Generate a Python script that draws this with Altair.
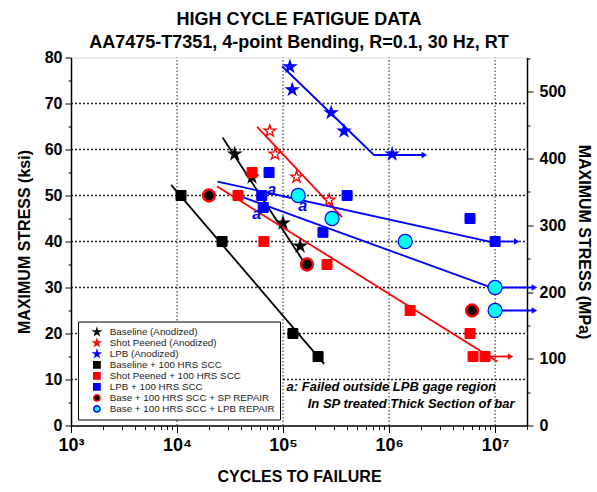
import altair as alt
import pandas as pd

FONT = "Liberation Sans"

# ---------------- data ----------------
series_names = [
    "Baseline (Anodized)",
    "Shot Peened (Anodized)",
    "LPB (Anodized)",
    "Baseline + 100 HRS SCC",
    "Shot Peened + 100 HRS SCC",
    "LPB + 100 HRS SCC",
    "Base + 100 HRS SCC + SP REPAIR",
    "Base + 100 HRS SCC + LPB REPAIR",
]
STAR = ("M0,-1L0.2245,-0.309L0.951,-0.309L0.363,0.118L0.588,0.809L0,0.382"
        "L-0.588,0.809L-0.363,0.118L-0.951,-0.309L-0.2245,-0.309Z")
series_kind = ["star", "star", "star", "square", "square", "square", "ring", "circle"]
series_shapes = [STAR, STAR, STAR, "square", "square", "square", "circle", "circle"]
series_fill = ["black", "white", "#0000ff", "black", "#ff0000", "#0000ff", "black", "#00ffff"]
series_stroke = ["black", "#ff0000", "#0000ff", "black", "#ff0000", "#0000ff", "#ff0000", "#0000ff"]

base_anod_n = [35000, 51000, 100000, 145000]
base_anod_s = [59, 54, 44, 39]
sp_anod_n = [75000, 84000, 134000, 272000]
sp_anod_s = [64, 59, 54, 49]
lpb_anod_n = [116000, 122000, 284000, 376000, 1070000]
lpb_anod_s = [78, 73, 68, 64, 59]
base_scc_n = [10900, 26600, 124000, 214000]
base_scc_s = [50, 40, 20, 15]
sp_scc_n = [51000, 37600, 66000, 260000, 1580000, 5800000, 6200000, 8050000]
sp_scc_s = [55, 50, 40, 35, 25, 20, 15, 15]
lpb_scc_n = [73800, 63000, 65000, 402000, 5800000, 238000, 10000000]
lpb_scc_s = [55, 50, 47.4, 50, 45, 42, 40]
sp_rep_n = [20000, 168000, 6070000]
sp_rep_s = [50, 35, 25]
lpb_rep_n = [139000, 290000, 1420000, 10000000, 10000000]
lpb_rep_s = [50, 45, 40, 30, 25]

series_n = [base_anod_n, sp_anod_n, lpb_anod_n, base_scc_n, sp_scc_n, lpb_scc_n, sp_rep_n, lpb_rep_n]
series_s = [base_anod_s, sp_anod_s, lpb_anod_s, base_scc_s, sp_scc_s, lpb_scc_s, sp_rep_s, lpb_rep_s]

# fitted trend lines and run-out arrows
line_id = ["b1", "b1", "r1", "r1", "u1", "u1", "u1",
           "b2", "b2", "r2", "r2", "r3", "r3", "u2", "u2", "u3", "u3",
           "u4", "u4", "u5", "u5", "u6", "u6"]
line_n = [26900, 176000, 57000, 360000, 98000, 720000, 2150000,
          8800, 244000, 23800, 10500000, 8050000, 14000000, 24100, 10000000, 10000000, 16000000,
          33900, 10000000, 10000000, 23500000, 10000000, 23500000]
line_s = [62.6, 33.8, 64.9, 45.3, 78.1, 58.8, 58.8,
          52.3, 13.4, 52.0, 13.9, 15, 15, 53.0, 39.7, 40, 40,
          50.4, 29.7, 30, 30, 25, 25]
line_col = ["black", "black", "#ff0000", "#ff0000", "#0000ff", "#0000ff", "#0000ff",
            "black", "black", "#ff0000", "#ff0000", "#ff0000", "#ff0000", "#0000ff", "#0000ff",
            "#0000ff", "#0000ff", "#0000ff", "#0000ff", "#0000ff", "#0000ff", "#0000ff", "#0000ff"]

arrow_n = [2150000, 14000000, 16000000, 23500000, 23500000]
arrow_s = [58.8, 15, 40, 30, 25]
arrow_col = ["#0000ff", "#ff0000", "#0000ff", "#0000ff", "#0000ff"]

a_n = [78300, 56500, 153000]
a_s = [51.2, 46.0, 47.7]

note_text = ["a: Failed outside LPB gage region", "In SP treated Thick Section of bar"]
note_n = [108000, 171000]
note_s = [8.3, 4.6]

x_ticks = [m * 10 ** e for e in range(3, 7) for m in range(1, 10)] + [10 ** 7, 2 * 10 ** 7]
x_labels = {1000: "10³", 10000: "10⁴", 100000: "10⁵", 1000000: "10⁶", 10000000: "10⁷"}
ksi_ticks = list(range(0, 81, 5))
mpa_ticks = list(range(0, 551, 50))
grid_n = [10000, 100000, 1000000, 10000000]
grid_s = [10, 20, 30, 40, 50, 60, 70]
KSI_TO_MPA = 6.895
X_MIN, X_MAX = 1000, 20000000

# ---------------- tables ----------------
rows = []
for name, kind, ns, ss in zip(series_names, series_kind, series_n, series_s):
    for n, s in zip(ns, ss):
        rows.append({"series": name, "kind": kind, "n": n, "s": s, "mpa": s * KSI_TO_MPA})
pts = pd.DataFrame(rows)
lines = pd.DataFrame({"id": line_id, "n": line_n, "s": line_s, "col": line_col})
lines["order"] = range(len(lines))
arrows = pd.DataFrame({"n": arrow_n, "s": arrow_s, "col": arrow_col})
a_df = pd.DataFrame({"n": a_n, "s": a_s, "t": ["a"] * len(a_n)})
note_df = pd.DataFrame({"n": note_n, "s": note_s, "t": note_text})
gx_df = pd.DataFrame({"n": grid_n, "ylo": [0] * len(grid_n), "yhi": [80] * len(grid_n)})
gy_df = pd.DataFrame({"s": grid_s, "xlo": [X_MIN] * len(grid_s), "xhi": [X_MAX] * len(grid_s)})

# ---------------- axes ----------------
decade = "abs(log(datum.value)/LN10 - round(log(datum.value)/LN10)) < 0.001"
label_expr = " : ".join(f"datum.value == {k} ? '{v}'" for k, v in x_labels.items()) + " : ''"
GRID = "#222222"

XAX = alt.Axis(
    values=x_ticks, labelExpr=label_expr, title="CYCLES TO FAILURE",
    titleFont=FONT, titleFontSize=16, titleFontWeight="bold", titleColor="black", titlePadding=14,
    labelFont=FONT, labelFontSize=18, labelFontWeight="bold", labelColor="black",
    labelPadding=4, labelOverlap=False, labelFlush=False,
    domainColor="black", domainWidth=1.5, tickColor="black", tickWidth=1,
    tickSize={"condition": {"test": decade, "value": 7}, "value": 4},
    grid=False,
)
YAX = alt.Axis(
    values=ksi_ticks, labelExpr="datum.value % 10 == 0 ? datum.label : ''",
    title="MAXIMUM STRESS (ksi)", titleFont=FONT, titleFontSize=16, titleFontWeight="bold",
    titleColor="black", titlePadding=12,
    labelFont=FONT, labelFontSize=16, labelFontWeight="bold", labelColor="black", labelPadding=3,
    labelOverlap=False, labelFlush=False,
    domainColor="black", domainWidth=1.5, tickColor="black",
    tickSize={"condition": {"test": "datum.value % 10 == 0", "value": 6}, "value": 3},
    grid=False,
)
YAX_R = alt.Axis(
    orient="right", values=mpa_ticks, labelExpr="datum.value % 100 == 0 ? datum.label : ''",
    title="MAXIMUM STRESS (MPa)", titleFont=FONT, titleFontSize=16, titleFontWeight="bold",
    titleColor="black", titlePadding=10,
    labelFont=FONT, labelFontSize=16, labelFontWeight="bold", labelColor="black", labelPadding=6,
    labelOverlap=False, labelFlush=False,
    domainColor="black", domainWidth=1.5, tickColor="black",
    tickSize={"condition": {"test": "datum.value % 100 == 0", "value": 6}, "value": 3},
    grid=False,
)

xs = alt.Scale(type="log", domain=[X_MIN, X_MAX])
ys = alt.Scale(domain=[0, 80])
X = alt.X("n:Q", scale=xs, axis=XAX)
Y = alt.Y("s:Q", scale=ys, axis=YAX)

LEG = alt.Legend(
    title=None, orient="none", legendX=7, legendY=264,
    strokeColor="black", fillColor="white", padding=5, cornerRadius=0,
    labelFont=FONT, labelFontSize=9.8, labelColor="#222222", labelLimit=300,
    symbolSize=40, symbolStrokeWidth=1.5, symbolOffset=9, labelOffset=8,
    rowPadding=0, clipHeight=10.8, symbolOpacity=1,
)
shape_enc = alt.Shape("series:N", scale=alt.Scale(domain=series_names, range=series_shapes), legend=LEG)
fill_enc = alt.Fill("series:N", scale=alt.Scale(domain=series_names, range=series_fill), legend=LEG)
stroke_enc = alt.Stroke("series:N", scale=alt.Scale(domain=series_names, range=series_stroke), legend=LEG)

gridx_layer = alt.Chart(gx_df).mark_rule(
    color=GRID, strokeDash=[1.5, 2], strokeWidth=1, opacity=1
).encode(x=X, y=alt.Y("ylo:Q", scale=ys, axis=YAX), y2="yhi:Q")
gridy_layer = alt.Chart(gy_df).mark_rule(
    color=GRID, strokeDash=[2, 2], strokeWidth=1.3, opacity=1
).encode(y=Y, x=alt.X("xlo:Q", scale=xs, axis=XAX), x2="xhi:Q")

line_layer = alt.Chart(lines).mark_line(strokeWidth=1.8, clip=False).encode(
    x=X, y=Y, detail="id:N", order="order:Q", color=alt.Color("col:N", scale=None)
)
arrow_layer = alt.Chart(arrows).mark_point(
    shape="triangle-right", filled=True, size=40, opacity=1, clip=False
).encode(x=X, y=Y, color=alt.Color("col:N", scale=None))


def point_layer(kind, size, sw):
    return alt.Chart(pts[pts["kind"] == kind]).mark_point(
        filled=True, size=size, strokeWidth=sw, opacity=1
    ).encode(x=X, y=Y, shape=shape_enc, fill=fill_enc, stroke=stroke_enc)


a_layer = alt.Chart(a_df).mark_text(
    font=FONT, fontSize=16, fontWeight="bold", fontStyle="italic", color="#0000ff"
).encode(x=X, y=Y, text="t:N")
note_layer = alt.Chart(note_df).mark_text(
    font=FONT, fontSize=13, fontWeight="bold", fontStyle="italic", color="black",
    align="left", baseline="middle"
).encode(x=X, y=Y, text="t:N")

main = alt.layer(
    gridx_layer, gridy_layer,
    line_layer, arrow_layer,
    point_layer("star", 150, 1.3),
    point_layer("square", 100, 1),
    point_layer("ring", 140, 2.5),
    point_layer("circle", 200, 1.2),
    a_layer, note_layer,
)

right = alt.Chart(pts).mark_point(opacity=0).encode(
    x=X, y=alt.Y("mpa:Q", scale=alt.Scale(domain=[0, 80 * KSI_TO_MPA]), axis=YAX_R)
)

chart = alt.layer(main, right).resolve_scale(y="independent").properties(
    width=456, height=368,
    title=alt.TitleParams(
        text=["HIGH CYCLE FATIGUE DATA", "AA7475-T7351, 4-point Bending, R=0.1, 30 Hz, RT"],
        font=FONT, fontSize=18, fontWeight="bold", color="black", anchor="middle",
        offset=-2, lineHeight=23,
    ),
    padding={"left": 71, "top": 57.5, "right": 70, "bottom": 66.5},
    autosize=alt.AutoSizeParams(type="none"),
).configure_view(stroke="black", strokeWidth=1.5).configure(background="white")

chart.save("out.html", embed_options={"renderer": "svg", "actions": False})
